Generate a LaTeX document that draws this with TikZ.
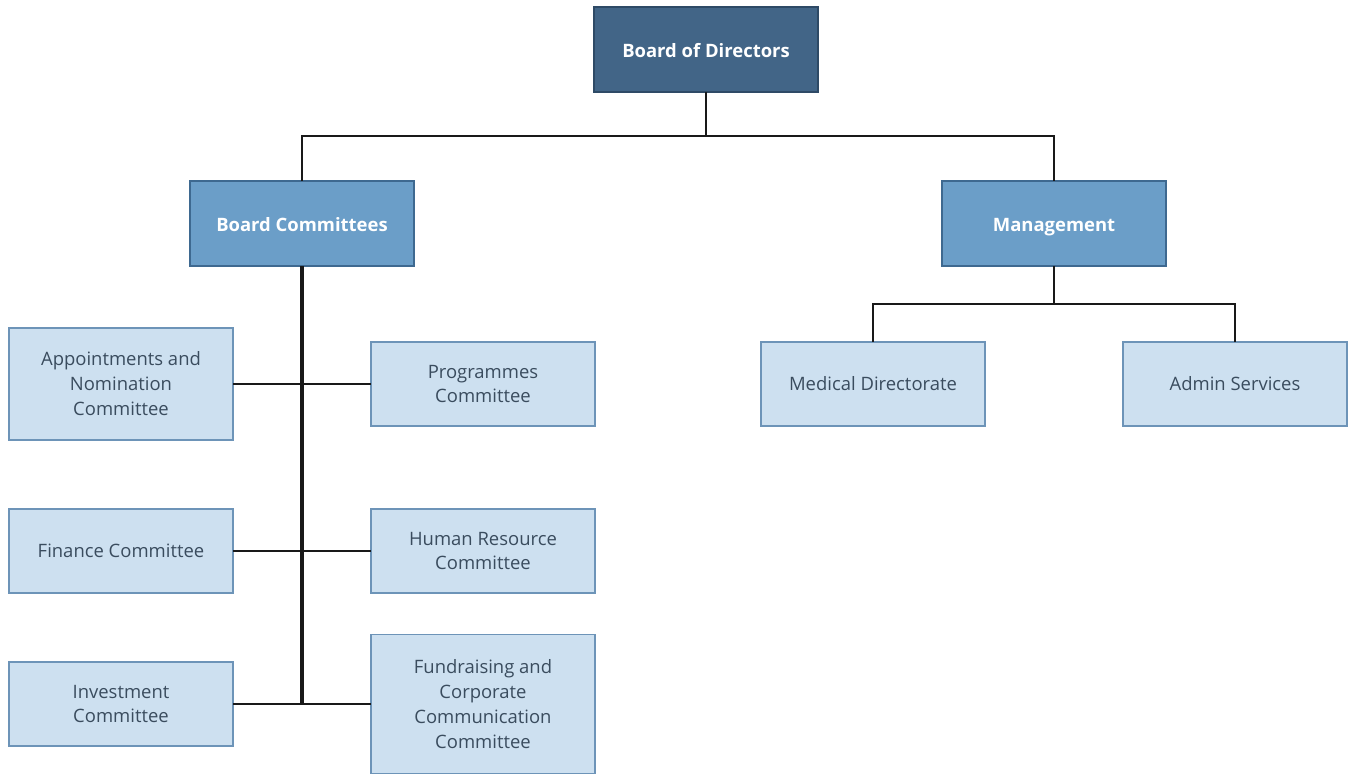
\documentclass[tikz,border=0pt]{standalone}
\usepackage{fontspec}
\setmainfont{Open Sans}
\usetikzlibrary{positioning, calc}
\definecolor{boarddark}{HTML}{426587}
\definecolor{boardline}{HTML}{2E4A66}
\definecolor{commmid}{HTML}{6B9EC8}
\definecolor{commline}{HTML}{3E6990}
\definecolor{unitlight}{HTML}{CDE0F0}
\definecolor{unitline}{HTML}{6D94B8}
\definecolor{unittext}{HTML}{3A4C5E}
\tikzset{
	font = {\fontsize{10.5pt}{14.2pt}\selectfont},
	top/.style = {rectangle, minimum width = 4.48cm, minimum height = 1.7cm, text centered, text height = 2.1ex, text depth = 0.45ex, draw = boardline, fill = boarddark, text = white, font = {\fontsize{10.5pt}{14.2pt}\selectfont\bfseries}, line width = 1pt},
	mid/.style = {top, draw = commline, fill = commmid},
	unit/.style = {rectangle, minimum width = 4.48cm, minimum height = 1.68cm, text centered, align = center, draw = unitline, fill = unitlight, text = unittext, line width = 1pt},
	link/.style = {draw = black!90, line width = 1.2pt},
	trunk/.style = {draw = black!90, line width = 1.9pt}
}
\begin{document}
\begin{tikzpicture}[inner sep = 0pt, outer sep = 0pt]
	\useasboundingbox (0,0) rectangle (26.98,-15.48);
	
	%%%%%%%% top levels %%%%%%%%
	\node (bod) [top] at (14.12cm,-0.99cm) {Board of Directors};
	\node (bc) [mid, below of=bod, yshift=-2.48cm, xshift=-8.08cm] {Board Committees};
	\node (mgmt) [mid, below of=bod, yshift=-2.48cm, xshift=6.96cm] {Management};
	
	%% committees
	\node (appt) [unit, minimum height = 2.24cm, below of=bc, yshift=-2.21cm, xshift=-3.62cm] {Appointments and\\Nomination\\Committee};
	\node (prog) [unit, right of=appt, xshift=6.24cm] {Programmes\\Committee};
	\node (fin) [unit, below of=appt, yshift=-2.34cm] {Finance Committee};
	\node (hr) [unit, right of=fin, xshift=6.24cm] {Human Resource\\Committee};
	\node (inv) [unit, below of=fin, yshift=-2.06cm] {Investment\\Committee};
	\node (fund) [unit, minimum height = 2.78cm, right of=inv, xshift=6.24cm] {Fundraising and\\Corporate\\Communication\\Committee};
	
	%% management
	\node (med) [unit, below of=mgmt, yshift=-2.21cm, xshift=-3.62cm] {Medical Directorate};
	\node (admin) [unit, right of=med, xshift=6.24cm] {Admin Services};
	
	%%% connectors %%%
	\coordinate (split) at ($(bod.south)+(0,-0.88)$);
	\draw [link] (bod.south) -- (split);
	\draw [link] (bc.north) |- (split) -| (mgmt.north);
	
	\coordinate (trunkend) at (bc.south |- inv.east);
	\draw [trunk] (bc.south) -- (trunkend);
	\draw [link] (appt.east) -- (prog.west);
	\draw [link] (fin.east) -- (hr.west);
	\draw [link] (inv.east) -- (inv.east -| fund.west);
	
	\coordinate (msplit) at ($(mgmt.south)+(0,-0.76)$);
	\draw [link] (mgmt.south) -- (msplit);
	\draw [link] (med.north) |- (msplit) -| (admin.north);
\end{tikzpicture}
\end{document}
